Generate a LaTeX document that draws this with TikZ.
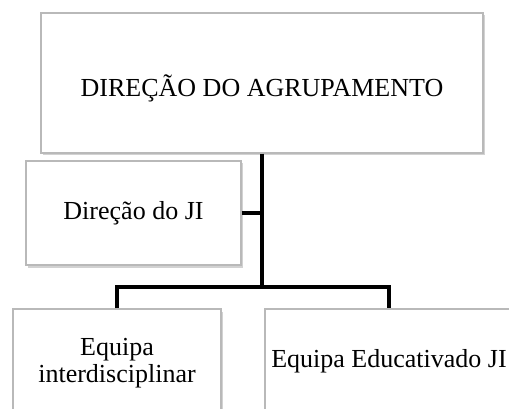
\documentclass[tikz,border=0pt]{standalone}
\usepackage{fontspec}
\setmainfont{Liberation Serif}
\usetikzlibrary{shadows}
\tikzset{
  caixa/.style={draw=gray!55, line width=1.2pt, fill=white, inner sep=0pt, align=center,
    drop shadow={shadow xshift=1.5pt, shadow yshift=-2.5pt, fill=gray!70, opacity=0.5}},
  liga/.style={line width=4pt, line join=miter, black}
}
\begin{document}
\begin{tikzpicture}[x=1pt,y=-1pt,font=\fontsize{26}{27}\selectfont]
\def \larg{509};
\def \alt{409};
\fill[white] (0,0) rectangle (\larg,\alt);
\clip (0,0) rectangle (\larg,\alt);
\node[caixa, minimum width=442pt, minimum height=140pt] (topo) at (262,83) {};
\node at (topo.center) [yshift=-5pt] {DIREÇÃO DO AGRUPAMENTO};
\node[caixa, minimum width=215pt, minimum height=104pt] (ji) at (133.5,213) {Direção do JI};
\node[caixa, minimum width=208pt, minimum height=104pt] (interd) at (117,361) {};
\node at (interd.center) [yshift=-2pt, align=center] {Equipa\\interdisciplinar};
\node[caixa, minimum width=248pt, minimum height=104pt] (educ) at (389,361) {Equipa Educativado JI};
\coordinate (barra) at (topo.south |- 0,287);
\draw[liga] (topo.south) -- (barra);
\draw[liga] (ji.east) -- (ji.east -| barra);
\draw[liga] (interd.north) |- (barra) -| (educ.north);
\end{tikzpicture}
\end{document}
